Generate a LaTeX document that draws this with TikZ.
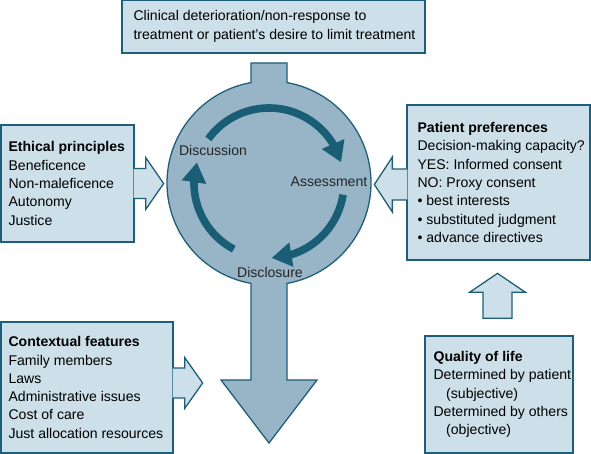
\documentclass[tikz,border=0pt]{standalone}
\usepackage{fontspec}
\setmainfont{Liberation Sans}
\usepackage{tikz}
\usetikzlibrary{positioning,arrows.meta,bending,calc}
\definecolor{cedge}{HTML}{1F5E78}
\definecolor{boxbg}{HTML}{CDDFE8}
\definecolor{hubbg}{HTML}{97B5C6}
\definecolor{cyc}{HTML}{1A5E76}
\tikzset{
  box/.style={rectangle, draw=cedge, fill=boxbg, line width=1.1pt, inner sep=0pt},
  txt/.style={align=left, inner sep=0pt, font=\fontsize{12}{15.6}\selectfont},
  blk/.style={draw=cedge, fill=boxbg, line width=1.1pt, line join=miter},
  hub/.style={draw=cedge, fill=hubbg, line width=1.1pt},
  cycarrow/.style={draw=cyc, line width=6.5pt, -{Triangle[length=6mm,width=7mm]}},
  lbl/.style={font=\fontsize{12}{14}\selectfont, text=black!85, inner sep=0pt}
}

\begin{document}
\begin{tikzpicture}[x=0.03cm, y=0.03cm]
\useasboundingbox (0,0) rectangle (591,454);

% the hub: stem, circle and outgoing arrow
\coordinate (c) at (269,271);
\filldraw[hub] ($(c)+(-18,120)$) -- ($(c)+(18,120)$) -- ($(c)+(18,100.4)$)
  arc[start angle=79.84, end angle=-79.84, radius=102]
  -- ($(c)+(18,-197)$) -- ($(c)+(48,-197)$) -- ($(c)+(0,-260)$)
  -- ($(c)+(-48,-197)$) -- ($(c)+(-18,-197)$) -- ($(c)+(-18,-100.4)$)
  arc[start angle=-100.16, end angle=-259.84, radius=102] -- cycle;

\draw[cycarrow] ($(c)+(144:75)$) arc[start angle=144, end angle=16, radius=75];
\draw[cycarrow] ($(c)+(-9:75)$) arc[start angle=-9, end angle=-88, radius=75];
\draw[cycarrow] ($(c)+(-118:75)$) arc[start angle=-118, end angle=-196, radius=75];

\node[lbl] (disc) at ($(c)+(-56,33)$) {Discussion};
\node[lbl] (asmt) at ($(c)+(60,1)$) {Assessment};
\node[lbl] (discl) at ($(c)+(1,-89)$) {Disclosure};

% boxes
\node[box, minimum width=9.09cm, minimum height=1.59cm] (top) at (273.5,427.5) {};
\node[box, minimum width=3.99cm, minimum height=3.51cm] (eth) at (67.5,270.5) {};
\node[box, minimum width=5.49cm, minimum height=4.65cm] (pat) at (498.5,271.5) {};
\node[box, minimum width=5.16cm, minimum height=3.93cm] (ctx) at (87,66.5) {};
\node[box, minimum width=4.44cm, minimum height=3.51cm] (qol) at (499,59.5) {};

\node[txt, right=0.36cm of top.west] (toptxt)
  {Clinical deterioration/non-response to\\treatment or patient's desire to limit treatment};
\node[txt, right=0.24cm of eth.west] (ethtxt)
  {\textbf{Ethical principles}\\Beneficence\\Non-maleficence\\Autonomy\\Justice};
\node[txt, right=0.33cm of pat.west] (pattxt)
  {\textbf{Patient preferences}\\Decision-making capacity?\\YES: Informed consent\\NO: Proxy consent\\• best interests\\• substituted judgment\\• advance directives};
\node[txt, right=0.24cm of ctx.west] (ctxtxt)
  {\textbf{Contextual features}\\Family members\\Laws\\Administrative issues\\Cost of care\\Just allocation resources};
\node[txt, right=0.27cm of qol.west] (qoltxt)
  {\textbf{Quality of life}\\Determined by patient\\\hspace*{0.9em}(subjective)\\Determined by others\\\hspace*{0.9em}(objective)};

% block arrows
\filldraw[blk] ($(eth.east)+(-1,15)$) -- ++(12,0) -- ++(0,11) -- ++(18,-26)
  -- ++(-18,-26) -- ++(0,11) -- ++(-12,0);
\filldraw[blk] ($(pat.west)+(1,13.5)$) -- ++(-15,0) -- ++(0,12) -- ++(-18,-27.5)
  -- ++(18,-27.5) -- ++(0,12) -- ++(15,0);
\filldraw[blk] ($(ctx.east)+(-1,19.5)$) -- ++(12,0) -- ++(0,10.5) -- ++(18,-25.5)
  -- ++(-18,-25.5) -- ++(0,10.5) -- ++(-12,0);
\filldraw[blk] ($(qol.north)+(-16,17)$) -- ++(0,26) -- ++(-13.5,0) -- ++(28,19)
  -- ++(28,-19) -- ++(-13.5,0) -- ++(0,-26) -- cycle;
\end{tikzpicture}
\end{document}
